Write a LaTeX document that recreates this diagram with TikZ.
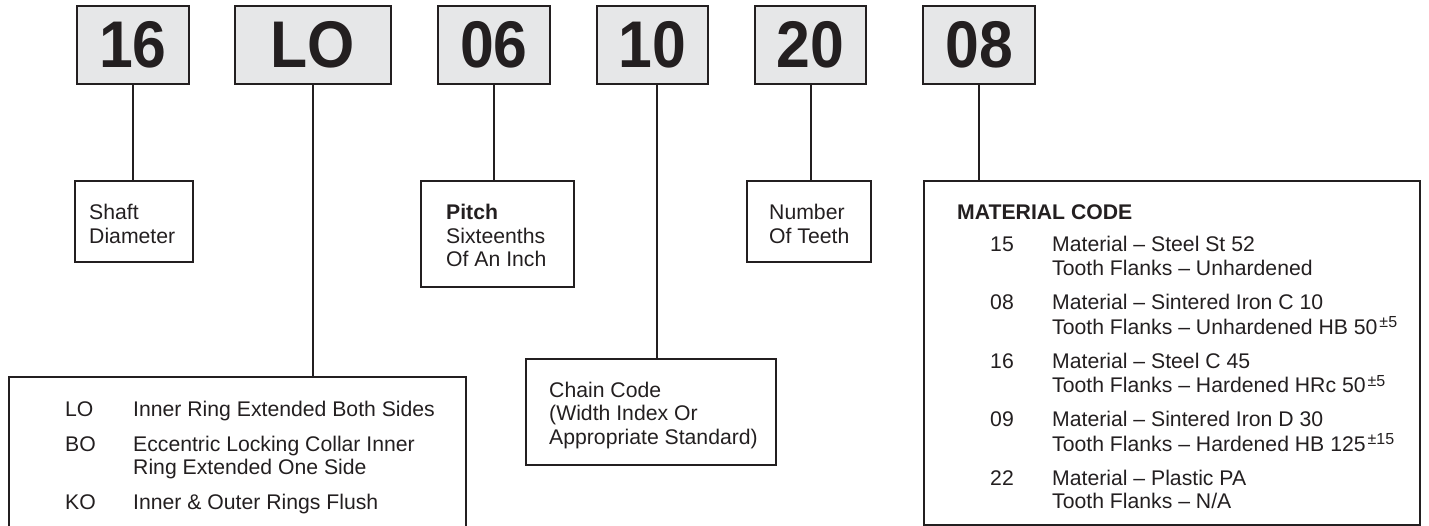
\documentclass[tikz,border=0pt]{standalone}
\usepackage{fontspec}
\setmainfont{Liberation Sans}
\newfontfamily\codefont[FakeStretch=0.92]{Liberation Sans}
\definecolor{inkgray}{HTML}{231F20}
\definecolor{codefill}{HTML}{E6E7E8}
\newcommand{\notestack}[1]{\begin{tabular}[t]{@{}l@{}}#1\end{tabular}}
\newcommand{\tol}[1]{\kern2pt\raisebox{6.5pt}{\fontsize{16}{16}\selectfont ±#1}}
\tikzset{
  codebox/.style={draw=inkgray, fill=codefill, line width=2pt, minimum height=78pt,
    inner sep=0pt, text=inkgray, font=\codefont\bfseries\fontsize{66}{66}\selectfont},
  notebox/.style={draw=inkgray, line width=2pt, anchor=north west, inner sep=0pt},
  notetext/.style={anchor=base west, inner sep=0pt, text=inkgray,
    font=\fontsize{21.2}{23.5}\selectfont},
  link/.style={draw=inkgray, line width=2pt},
}
\begin{document}
\begin{tikzpicture}[x=1pt, y=-1pt]
    \useasboundingbox (0,0) rectangle (1429,526);
    % Draw the code boxes
    \node[codebox, minimum width=112pt] (c16) at (133,45) {16};
    \node[codebox, minimum width=156pt] (cLO) at (313,45) {LO};
    \node[codebox, minimum width=112pt] (c06) at (494,45) {06};
    \node[codebox, minimum width=111pt] (c10) at (652.5,45) {10};
    \node[codebox, minimum width=111pt] (c20) at (810.5,45) {20};
    \node[codebox, minimum width=112pt] (c08) at (979,45) {08};
    % Draw the note boxes
    \node[notebox, minimum width=118pt, minimum height=81pt] (shaftbox) at (74,180) {};
    \node[notebox, minimum width=457pt, minimum height=154pt] (borebox) at (8,376) {};
    \node[notebox, minimum width=153pt, minimum height=106pt] (pitchbox) at (420,180) {};
    \node[notebox, minimum width=250pt, minimum height=106pt] (chainbox) at (525,358) {};
    \node[notebox, minimum width=124pt, minimum height=81pt] (teethbox) at (746,180) {};
    \node[notebox, minimum width=496pt, minimum height=344pt] (matbox) at (923,180) {};
    % Draw the links
    \draw[link] (c16.south) -- (c16.south |- shaftbox.north);
    \draw[link] (cLO.south) -- (cLO.south |- borebox.north);
    \draw[link] (c06.south) -- (c06.south |- pitchbox.north);
    \draw[link] ([xshift=4pt]c10.south) -- ([xshift=4pt]c10.south |- chainbox.north);
    \draw[link] (c20.south) -- (c20.south |- teethbox.north);
    \draw[link] (c08.south) -- (c08.south |- matbox.north);
    % Write the notes
    \node[notetext] (shafttxt) at (89,220) {\notestack{Shaft\\Diameter}};
    \node[notetext] (pitchtxt) at (446,220) {\notestack{\textbf{Pitch}\\Sixteenths\\Of An Inch}};
    \node[notetext] (teethtxt) at (769,220) {\notestack{Number\\Of Teeth}};
    \node[notetext] (chaintxt) at (549,397) {\notestack{Chain Code\\(Width Index Or\\Appropriate Standard)}};
    \node[notetext] (boretxt) at (65,416) {\begin{tabular}[t]{@{}p{68pt}@{}l@{}}
        LO & Inner Ring Extended Both Sides\\[11.5pt]
        BO & Eccentric Locking Collar Inner\\
           & Ring Extended One Side\\[11pt]
        KO & Inner \& Outer Rings Flush
      \end{tabular}};
    \node[notetext, font=\bfseries\fontsize{21.2}{23.5}\selectfont] (mattitle) at (957,220) {MATERIAL CODE};
    \node[notetext] (mattxt) at (990,252) {\begin{tabular}[t]{@{}p{62pt}@{}l@{}}
        15 & Material – Steel St 52\\
           & Tooth Flanks – Unhardened\\[10.5pt]
        08 & Material – Sintered Iron C 10\\
           & Tooth Flanks – Unhardened HB 50\tol{5}\\[10.5pt]
        16 & Material – Steel C 45\\
           & Tooth Flanks – Hardened HRc 50\tol{5}\\[10.5pt]
        09 & Material – Sintered Iron D 30\\
           & Tooth Flanks – Hardened HB 125\tol{15}\\[10.5pt]
        22 & Material – Plastic PA\\
           & Tooth Flanks – N/A
      \end{tabular}};
\end{tikzpicture}
\end{document}
